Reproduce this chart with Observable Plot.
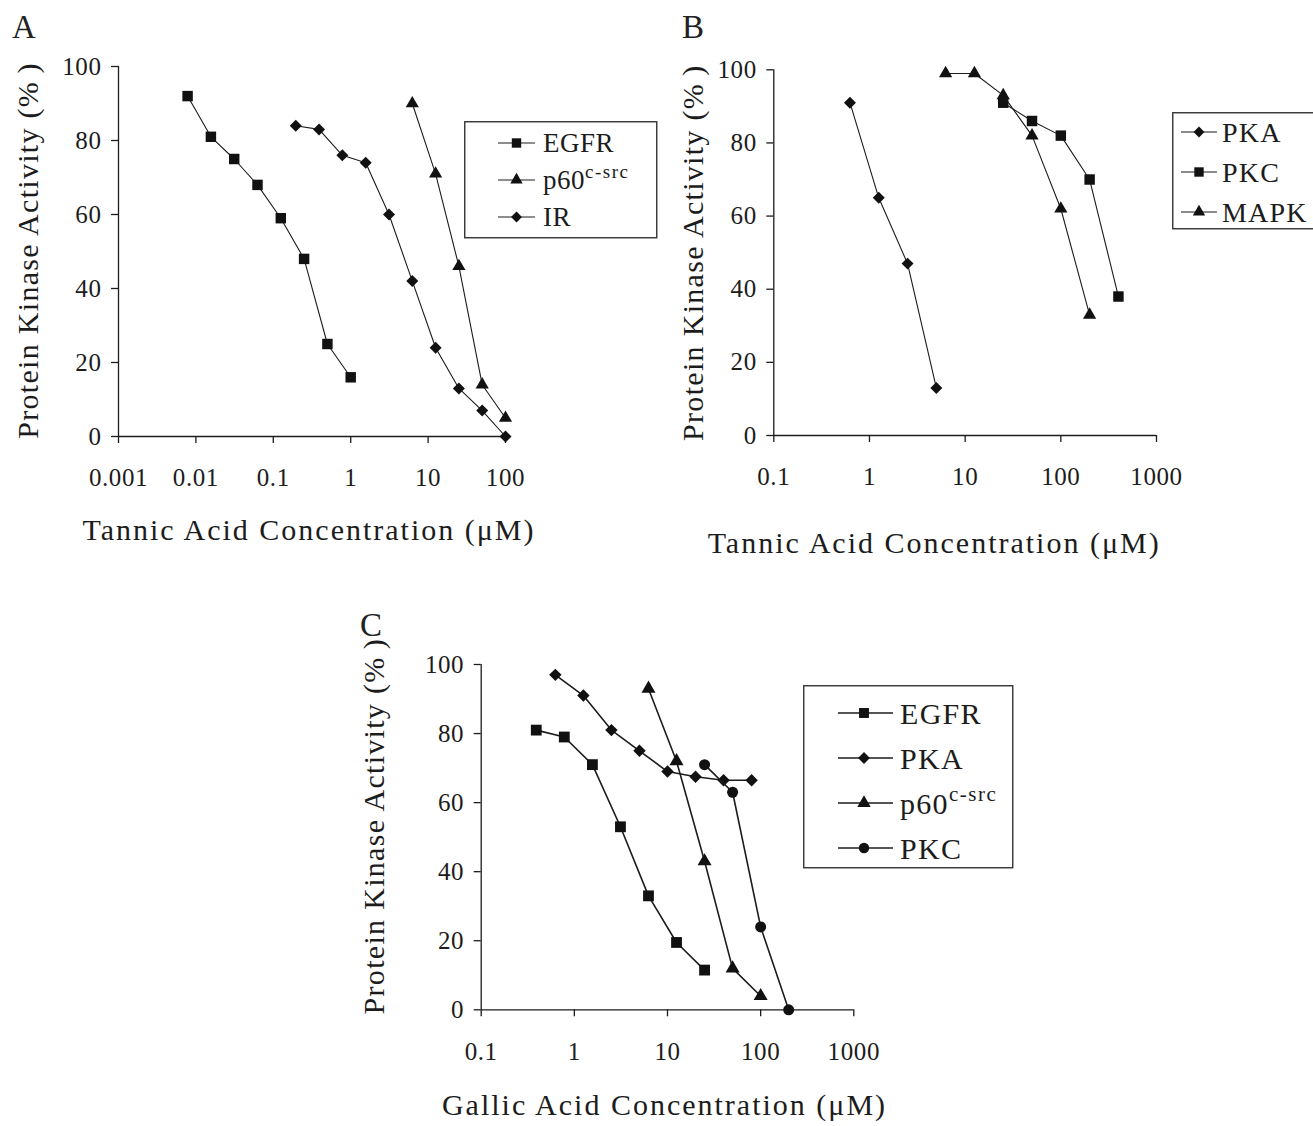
<!DOCTYPE html>
<html><head><meta charset="utf-8">
<script src="https://cdn.jsdelivr.net/npm/d3@7"></script>
<script src="https://cdn.jsdelivr.net/npm/@observablehq/plot@0.6"></script>
<style>
body{margin:0;background:#fff;}
#fig{position:relative;width:1313px;height:1126px;background:#fff;font-family:"Liberation Serif","Times New Roman",serif;color:#222;overflow:hidden}
.panel{position:absolute}
.panel svg{max-width:none !important;overflow:visible}
.letter{position:absolute;font-size:33px;line-height:1;color:#222}
.legend{position:absolute;overflow:visible}
</style></head>
<body><div id="fig"></div>
<script>
// ---------- DATA ----------
// Panel A: Tannic acid (µM)
const A_EGFR_x = [0.0078125, 0.015625, 0.03125, 0.0625, 0.125, 0.25, 0.5, 1];
const A_EGFR_y = [92, 81, 75, 68, 59, 48, 25, 16];
const A_p60_x = [6.25, 12.5, 25, 50, 100];
const A_p60_y = [90, 71, 46, 14, 5];
const A_IR_x = [0.195, 0.39, 0.78, 1.5625, 3.125, 6.25, 12.5, 25, 50, 100];
const A_IR_y = [84, 83, 76, 74, 60, 42, 24, 13, 7, 0];
// Panel B: Tannic acid (µM)
const B_PKA_x = [0.625, 1.25, 2.5, 5];
const B_PKA_y = [91, 65, 47, 13];
const B_PKC_x = [25, 50, 100, 200, 400];
const B_PKC_y = [91, 86, 82, 70, 38];
const B_MAPK_x = [6.25, 12.5, 25, 50, 100, 200];
const B_MAPK_y = [99, 99, 93, 82, 62, 33];
// Panel C: Gallic acid (µM)
const C_EGFR_x = [0.39, 0.78, 1.5625, 3.125, 6.25, 12.5, 25];
const C_EGFR_y = [81, 79, 71, 53, 33, 19.5, 11.5];
const C_PKA_x = [0.625, 1.25, 2.5, 5, 10, 20, 40, 80];
const C_PKA_y = [97, 91, 81, 75, 69, 67.5, 66.5, 66.5];
const C_p60_x = [6.25, 12.5, 25, 50, 100];
const C_p60_y = [93, 72, 43, 12, 4];
const C_PKC_x = [25, 50, 100, 200];
const C_PKC_y = [71, 63, 24, 0];

const yTicks = [0, 20, 40, 60, 80, 100];
const A_xTicks = [0.001, 0.01, 0.1, 1, 10, 100];
const B_xTicks = [0.1, 1, 10, 100, 1000];
const C_xTicks = [0.1, 1, 10, 100, 1000];
const yTitle = "Protein Kinase Activity (%\u2009)";
const tannicTitle = "Tannic Acid Concentration (\u03bcM)";
const gallicTitle = "Gallic Acid Concentration (\u03bcM)";

// ---------- HELPERS ----------
const FONT = '"Liberation Serif","Times New Roman",serif';
const INK = "#1c1c1c";
const pts = (xs, ys) => xs.map((x, i) => ({x, y: ys[i]}));

function makePanel(cfg) {
  const marks = [
    Plot.ruleY([0], {stroke: INK, strokeWidth: 1.3}),
    Plot.ruleX([cfg.xDomain[0]], {stroke: INK, strokeWidth: 1.3}),
    Plot.axisX(cfg.xTicks, {tickSize: 7, tickPadding: 25, tickFormat: d => String(d), label: null, stroke: INK, strokeWidth: 1.3}),
    Plot.axisY(yTicks, {tickSize: 7, tickPadding: 10, label: null, stroke: INK, strokeWidth: 1.3}),
  ];
  for (const s of cfg.series) {
    const d = pts(s.x, s.y);
    marks.push(Plot.line(d, {x: "x", y: "y", stroke: INK, strokeWidth: cfg.lw}));
    marks.push(Plot.dot(d, {x: "x", y: "y", symbol: s.symbol, r: s.r, fill: "#111", stroke: "none"}));
  }
  marks.push(Plot.text([yTitle], {text: d => d, frameAnchor: "left", dx: cfg.yTitleDx, dy: cfg.yTitleDy, rotate: -90,
    textAnchor: "middle", lineAnchor: "middle", fontSize: 30, fill: INK}));
  marks.push(Plot.text([cfg.xTitle], {text: d => d, frameAnchor: "bottom", dx: cfg.xTitleDx, dy: cfg.xTitleDy,
    textAnchor: "middle", lineAnchor: "middle", fontSize: 30, fill: INK}));
  const svg = Plot.plot({
    width: cfg.width, height: cfg.height,
    marginLeft: cfg.ml, marginRight: cfg.mr, marginTop: cfg.mt, marginBottom: cfg.mb,
    style: `font-family:${FONT};font-size:25px;letter-spacing:0.6px;color:${INK};background:transparent;overflow:visible;`,
    x: {type: "log", domain: cfg.xDomain},
    y: {domain: [0, 100]},
    marks
  });
  d3.select(svg).selectAll("text").each(function() {
    const t = this.textContent;
    if (t === yTitle) this.style.letterSpacing = "1.3px";
    else if (t === cfg.xTitle) this.style.letterSpacing = "2px";
  });
  const div = document.createElement("div");
  div.className = "panel";
  div.style.left = cfg.left + "px";
  div.style.top = cfg.top + "px";
  div.appendChild(svg);
  document.getElementById("fig").appendChild(div);
}

function letter(ch, left, top) {
  const d = document.createElement("div");
  d.className = "letter";
  d.textContent = ch;
  d.style.left = left + "px";
  d.style.top = top + "px";
  document.getElementById("fig").appendChild(d);
}

const symbolTypes = {square: d3.symbolSquare, diamond2: d3.symbolDiamond2, triangle: d3.symbolTriangle, circle: d3.symbolCircle};

function legend(cfg) {
  const svg = d3.select("#fig").append("svg").attr("class", "legend")
    .style("left", cfg.left + "px").style("top", cfg.top + "px")
    .attr("width", cfg.width + 2).attr("height", cfg.height + 2);
  svg.append("rect").attr("x", 0.75).attr("y", 0.75).attr("width", cfg.width).attr("height", cfg.height)
    .attr("fill", "#fff").attr("stroke", "#333").attr("stroke-width", 1.4);
  for (const row of cfg.rows) {
    svg.append("line").attr("x1", cfg.lineX0).attr("x2", cfg.lineX1).attr("y1", row.y).attr("y2", row.y)
      .attr("stroke", INK).attr("stroke-width", cfg.lw);
    svg.append("path").attr("d", d3.symbol(symbolTypes[row.symbol], Math.PI * row.r * row.r)())
      .attr("transform", `translate(${cfg.markX},${row.y})`).attr("fill", "#111");
    const t = svg.append("text").attr("x", cfg.textX).attr("y", row.y).attr("dy", "0.35em")
      .attr("font-family", FONT).attr("font-size", cfg.fontSize).attr("fill", INK)
      .style("letter-spacing", cfg.spacing + "px").text(row.label);
    if (row.sup) t.append("tspan").attr("font-size", cfg.supSize).attr("dy", "-0.6em").style("letter-spacing", "1.5px").text(row.sup);
  }
}

// ---------- PANEL A ----------
makePanel({
  left: 0, top: 0, width: 660, height: 560, ml: 118, mr: 155, mt: 66, mb: 124,
  xDomain: [0.001, 100], xTicks: A_xTicks, lw: 1.1, xTitle: tannicTitle,
  xTitleDx: -3, xTitleDy: 94, yTitleDx: -90, yTitleDy: -1,
  series: [
    {x: A_EGFR_x, y: A_EGFR_y, symbol: "square", r: 5.9},
    {x: A_p60_x, y: A_p60_y, symbol: "triangle", r: 4.9},
    {x: A_IR_x, y: A_IR_y, symbol: "diamond2", r: 5.4},
  ]
});
letter("A", 12, 11);
legend({left: 464, top: 121, width: 192, height: 116, lineX0: 34, lineX1: 71, markX: 52.5, textX: 79,
  fontSize: 27, supSize: 19, spacing: 0.5, lw: 1.1, rows: [
    {label: "EGFR", symbol: "square", r: 5.3, y: 22},
    {label: "p60", sup: "c-src", symbol: "triangle", r: 4.6, y: 59},
    {label: "IR", symbol: "diamond2", r: 4.9, y: 96},
  ]});

// ---------- PANEL B ----------
makePanel({
  left: 660, top: 0, width: 653, height: 570, ml: 113.3, mr: 157, mt: 69.3, mb: 135,
  xDomain: [0.1, 1000], xTicks: B_xTicks, lw: 1.1, xTitle: tannicTitle,
  xTitleDx: -31, xTitleDy: 108, yTitleDx: -80, yTitleDy: 0,
  series: [
    {x: B_PKA_x, y: B_PKA_y, symbol: "diamond2", r: 5.4},
    {x: B_PKC_x, y: B_PKC_y, symbol: "square", r: 5.9},
    {x: B_MAPK_x, y: B_MAPK_y, symbol: "triangle", r: 4.9},
  ]
});
letter("B", 682, 11);
legend({left: 1172, top: 112, width: 160, height: 116, lineX0: 9, lineX1: 45, markX: 27, textX: 50,
  fontSize: 28, supSize: 19, spacing: 1.2, lw: 1.1, rows: [
    {label: "PKA", symbol: "diamond2", r: 4.9, y: 20},
    {label: "PKC", symbol: "square", r: 5.3, y: 60},
    {label: "MAPK", symbol: "triangle", r: 4.6, y: 100},
  ]});

// ---------- PANEL C ----------
makePanel({
  left: 340, top: 590, width: 700, height: 536, ml: 140.7, mr: 186.7, mt: 74, mb: 116.7,
  xDomain: [0.1, 1000], xTicks: C_xTicks, lw: 1.6, xTitle: gallicTitle,
  xTitleDx: -3, xTitleDy: 96, yTitleDx: -107, yTitleDy: -11,
  series: [
    {x: C_EGFR_x, y: C_EGFR_y, symbol: "square", r: 6.1},
    {x: C_PKA_x, y: C_PKA_y, symbol: "diamond2", r: 5.6},
    {x: C_p60_x, y: C_p60_y, symbol: "triangle", r: 5.2},
    {x: C_PKC_x, y: C_PKC_y, symbol: "circle", r: 5.5},
  ]
});
letter("C", 360, 609);
legend({left: 803, top: 685, width: 209, height: 182, lineX0: 35, lineX1: 90, markX: 61, textX: 97,
  fontSize: 30, supSize: 21, spacing: 1.3, lw: 1.6, rows: [
    {label: "EGFR", symbol: "square", r: 5.6, y: 28},
    {label: "PKA", symbol: "diamond2", r: 5.3, y: 73},
    {label: "p60", sup: "c-src", symbol: "triangle", r: 5, y: 118},
    {label: "PKC", symbol: "circle", r: 5.2, y: 163},
  ]});
</script>
</body></html>
